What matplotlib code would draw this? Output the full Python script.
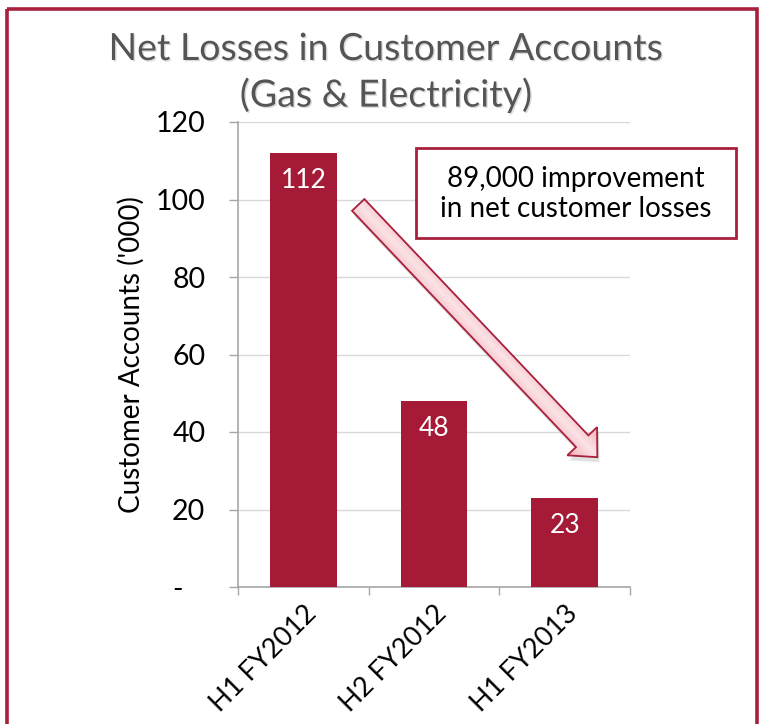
import matplotlib
matplotlib.use('Agg')
import matplotlib.pyplot as plt
import numpy as np
from matplotlib.patches import Polygon, Rectangle
from matplotlib.colors import LinearSegmentedColormap
import matplotlib.patheffects as pe

categories = ['H1 FY2012', 'H2 FY2012', 'H1 FY2013']
values = [112, 48, 23]
y_ticks = [0, 20, 40, 60, 80, 100, 120]
y_tick_labels = ['-   ', '20', '40', '60', '80', '100', '120']
title_lines = ['Net Losses in Customer Accounts', '(Gas & Electricity)']
y_label = "Customer Accounts ('000)"
callout = '89,000 improvement\nin net customer losses'

plt.rcParams['font.family'] = ['Lato', 'DejaVu Sans']

W, H = 765, 724
DPI = 100
fig = plt.figure(figsize=(W / DPI, H / DPI), dpi=DPI)
fig.patch.set_facecolor('white')

BAR = '#A51A36'
FRAME = '#A8203C'
SPINE = '#A6A6A6'

ax = fig.add_axes([238 / W, 1 - 587 / H, 392 / W, 465 / H])
x = np.arange(len(categories))
bars = ax.bar(x, values, width=0.51, color=BAR, zorder=3)
ax.set_xlim(-0.5, len(categories) - 0.5)
ax.set_ylim(0, 120)
ax.set_yticks(y_ticks)
ax.set_yticklabels(y_tick_labels)
ax.yaxis.grid(True, color='#D9D9D9', lw=1, zorder=0)
ax.set_axisbelow(True)
for s in ['top', 'right']:
    ax.spines[s].set_visible(False)
for s in ['left', 'bottom']:
    ax.spines[s].set_color(SPINE)
    ax.spines[s].set_linewidth(1.2)
ax.tick_params(axis='y', length=6.5, width=1, color=SPINE, pad=17, labelsize=20.5, labelcolor='black')
ax.set_xticks(x)
ax.set_xticklabels(categories, rotation=45, ha='right', rotation_mode='anchor', fontsize=19.5)
ax.tick_params(axis='x', which='major', length=0, pad=10)
ax.set_xticks(np.arange(len(categories) + 1) - 0.5, minor=True)
ax.tick_params(axis='x', which='minor', length=6, width=1, color=SPINE)
ax.set_ylabel(y_label, fontsize=20)
ax.yaxis.set_label_coords(-93 / 392, (587 - 355) / 465)

for xi, v in zip(x, values):
    ax.annotate(str(v), (xi, v), xytext=(0, -20), textcoords='offset points',
                ha='center', va='center', color='white', fontsize=19, zorder=4)

# overlay in pixel coordinates (y downward)
ov = fig.add_axes([0, 0, 1, 1], zorder=5)
ov.set_facecolor('none')
ov.axis('off')

# frame
ov.add_patch(Rectangle((7, 9), 750, 800, fill=False, edgecolor=FRAME, lw=2.6))

# title
for i, t in enumerate(title_lines):
    ov.text(386, 49 + 46 * i, t, ha='center', va='center', fontsize=27, color='#555555',
            path_effects=[pe.withSimplePatchShadow(offset=(1, -1), shadow_rgbFace='#BBBBBB', alpha=0.5)])

# callout box
ov.add_patch(Rectangle((416, 148), 320, 90, facecolor='white', edgecolor=FRAME, lw=2))
ov.text(576, 194, callout, ha='center', va='center', fontsize=20, color='black', linespacing=1.2)

# arrow from near first bar top to third bar
def to_px(pt):
    d = ax.transData.transform(pt)
    return np.array([d[0], H - d[1]])

tail = to_px((0.42, 98.6))
tip = to_px((2.25, 33.5))
u = (tip - tail) / np.linalg.norm(tip - tail)
n = np.array([-u[1], u[0]])
hw, hh, hl = 8.5, 20.5, 22
hb = tip - u * hl
pts = np.array([tail + n * hw, hb + n * hw, hb + n * hh, tip, hb - n * hh, hb - n * hw, tail - n * hw])

shadow = Polygon(pts + np.array([2, 5]), closed=True, facecolor='#888888', alpha=0.25, edgecolor='none', zorder=1)
ov.add_patch(shadow)
poly = Polygon(pts, closed=True, facecolor='none', edgecolor=FRAME, lw=1.3, zorder=3)
ov.add_patch(poly)

x0, y0 = pts.min(axis=0) - 2
x1, y1 = pts.max(axis=0) + 2
gx, gy = np.meshgrid(np.linspace(x0, x1, 300), np.linspace(y0, y1, 300))
proj = ((gx - tail[0]) * n[0] + (gy - tail[1]) * n[1]) / hh
cmap = LinearSegmentedColormap.from_list('pk', ['#F3AEB8', '#FBE3E6', '#F3AEB8'])
im = ov.imshow(proj, extent=(x0, x1, y1, y0), origin='upper', cmap=cmap,
               vmin=-1, vmax=1, aspect='auto', zorder=2, interpolation='bilinear')
im.set_clip_path(poly)

ov.set_xlim(0, W)
ov.set_ylim(H, 0)

fig.savefig('out.png', dpi=DPI)
